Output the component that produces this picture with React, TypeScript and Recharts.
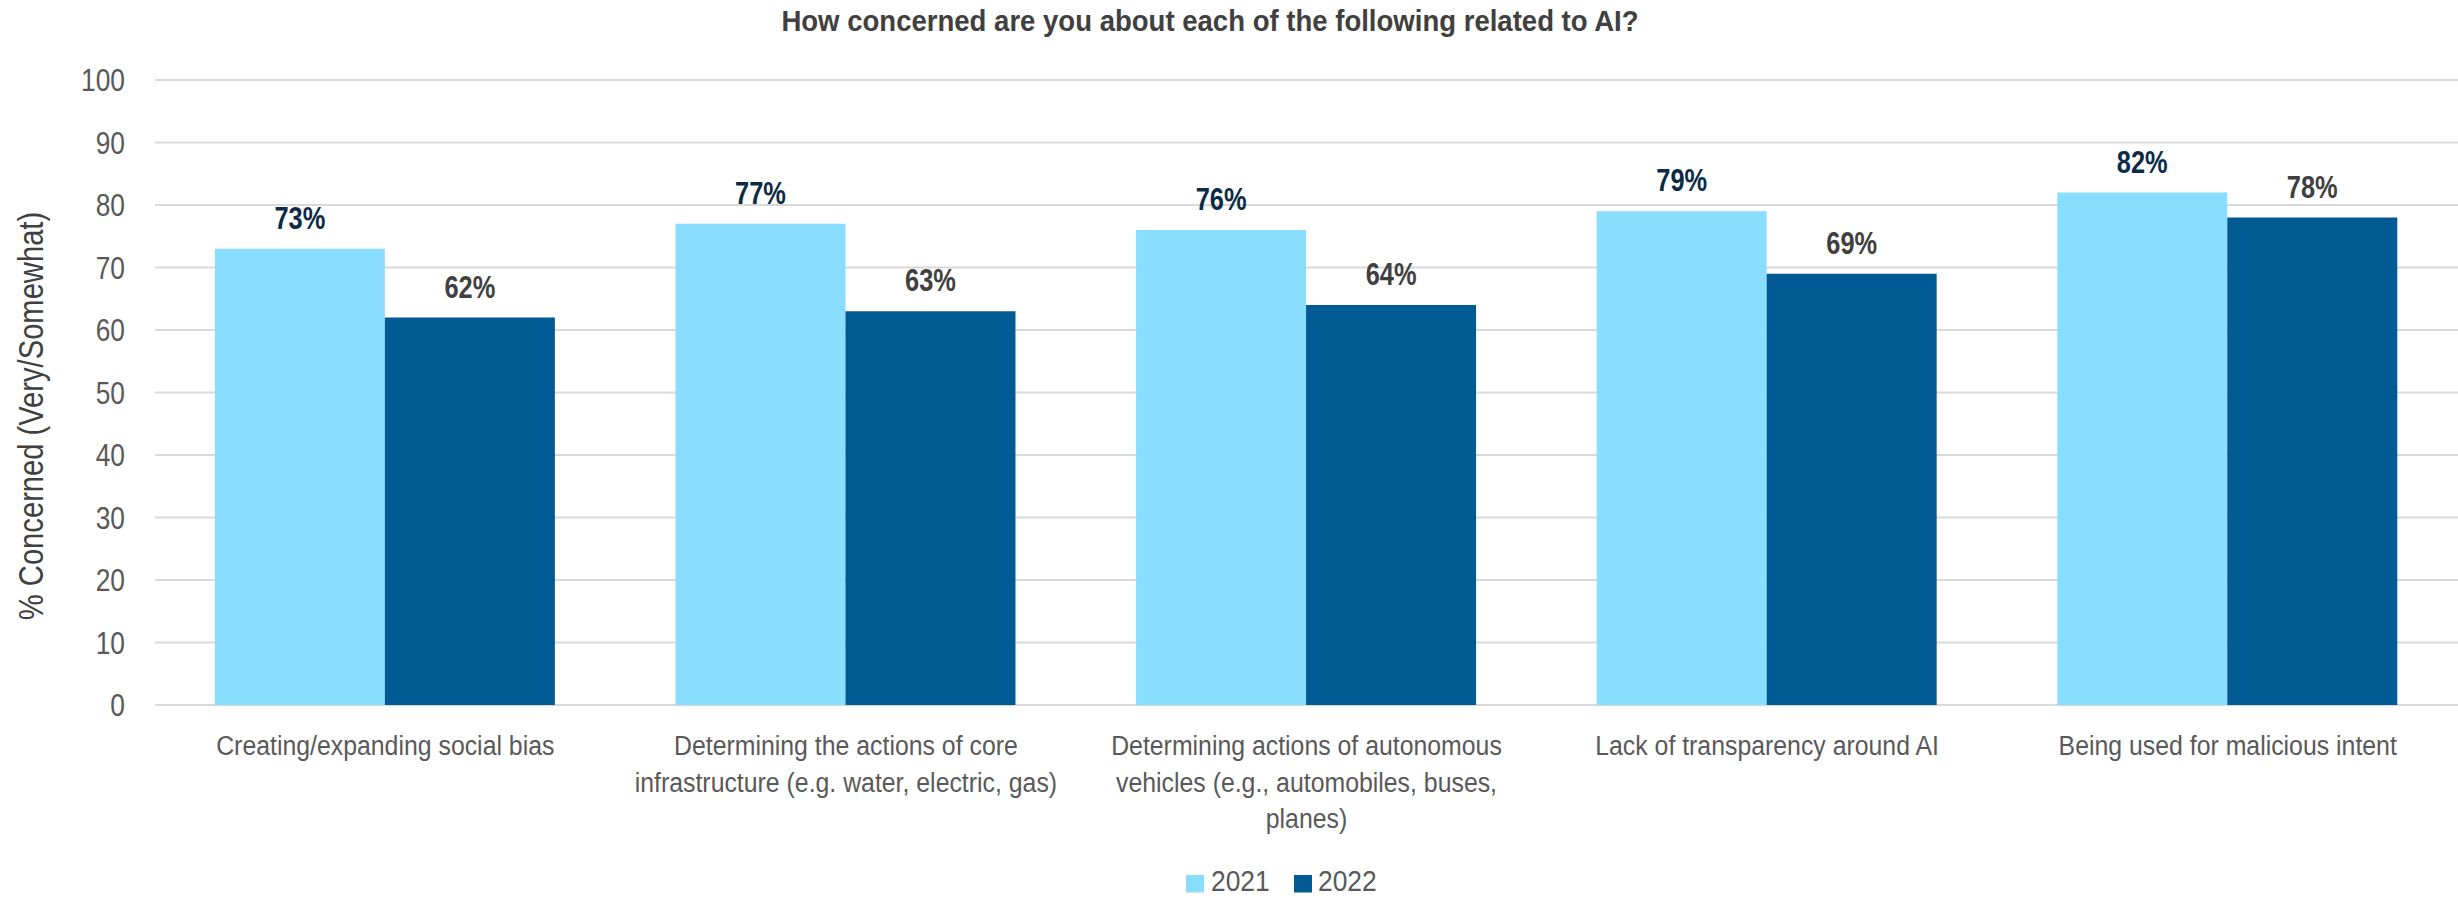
import { Bar, BarChart, CartesianGrid, LabelList, Legend, XAxis, YAxis } from 'recharts';

const categories = [
  'Creating/expanding social bias',
  'Determining the actions of core infrastructure (e.g. water, electric, gas)',
  'Determining actions of autonomous vehicles (e.g., automobiles, buses, planes)',
  'Lack of transparency around AI',
  'Being used for malicious intent',
];

// how the category labels wrap in the original
const categoryLines = [
  ['Creating/expanding social bias'],
  ['Determining the actions of core', 'infrastructure (e.g. water, electric, gas)'],
  ['Determining actions of autonomous', 'vehicles (e.g., automobiles, buses,', 'planes)'],
  ['Lack of transparency around AI'],
  ['Being used for malicious intent'],
];

const values2021 = [73, 77, 76, 79, 82];
const values2022 = [62, 63, 64, 69, 78];
const yTicks = [0, 10, 20, 30, 40, 50, 60, 70, 80, 90, 100];
const seriesNames = ['2021', '2022'];

const data = categories.map((name, i) => ({
  name,
  y2021: values2021[i],
  y2022: values2022[i],
}));

const FONT = "'Liberation Sans', Arial, sans-serif";
const LIGHT = '#89DDFF';
const DARK = '#005A94';
const GRAY = '#595959';

// the original uses a compressed face, so squeeze a regular one sideways
const NarrowText = ({ x, y, sx, size, anchor = 'middle', weight = 'normal', fill = GRAY, rotate = 0, children }: any) => (
  <text
    transform={`translate(${x},${y})${rotate ? ` rotate(${rotate})` : ''} scale(${sx},1)`}
    x={0}
    y={0}
    textAnchor={anchor}
    fontSize={size}
    fontWeight={weight}
    fill={fill}
    fontFamily={FONT}
  >
    {children}
  </text>
);

const CategoryTick = ({ x, y, payload }: any) => {
  const idx = categories.indexOf(payload.value);
  const lines = categoryLines[idx] || [payload.value];
  return (
    <g>
      {lines.map((line, i) => (
        <NarrowText key={i} x={x} y={y + 50 + i * 36.5} sx={0.92} size={27}>
          {line}
        </NarrowText>
      ))}
    </g>
  );
};

const ValueTick = ({ x, y, payload }: any) => (
  <NarrowText x={x} y={y + 11} sx={0.85} size={31} anchor='end'>
    {payload.value}
  </NarrowText>
);

// legend svg sits at top 860, so baseline 31 -> y 891
const LegendBox = () => (
  <svg width={200} height={38} style={{ display: 'block' }}>
    <rect x={0} y={15} width={18} height={17.5} fill={LIGHT} />
    <NarrowText x={25} y={31} sx={0.88} size={30} anchor='start'>
      {seriesNames[0]}
    </NarrowText>
    <rect x={108} y={15} width={18} height={17.5} fill={DARK} />
    <NarrowText x={132} y={31} sx={0.88} size={30} anchor='start'>
      {seriesNames[1]}
    </NarrowText>
  </svg>
);

const makeValueLabel = (color: string) => (props: any) => {
  const { x, y, width, value } = props;
  return (
    <NarrowText x={x + width / 2} y={y - 20} sx={0.82} size={31} weight='bold' fill={color}>
      {`${value}%`}
    </NarrowText>
  );
};

export default function App() {
  return (
    <div style={{ position: 'absolute', left: 0, top: 0, width: 2458, height: 898, background: '#fff', overflow: 'hidden' }}>
      <svg
        width={2458}
        height={50}
        style={{ position: 'absolute', left: 0, top: 0, zIndex: 2 }}
      >
        <NarrowText x={1210} y={31} sx={0.95} size={29} weight='bold' fill='#404040'>
          How concerned are you about each of the following related to AI?
        </NarrowText>
      </svg>
      <BarChart
        width={2458}
        height={898}
        data={data}
        margin={{ top: 80, right: 0, left: 0, bottom: 25 }}
        barCategoryGap='13%'
        barGap={0}
      >
        <CartesianGrid vertical={false} stroke='#D9D9D9' strokeWidth={2} />
        <XAxis
          dataKey='name'
          axisLine={false}
          tickLine={false}
          tickSize={0}
          tickMargin={0}
          interval={0}
          height={130}
          tick={<CategoryTick />}
        />
        <YAxis
          width={155}
          domain={[0, 100]}
          ticks={yTicks}
          axisLine={false}
          tickLine={false}
          tickSize={0}
          tickMargin={30}
          tick={<ValueTick />}
          label={{
            content: () => (
              <NarrowText x={43} y={416} sx={0.81} size={36} fill='#404040' rotate={-90}>
                % Concerned (Very/Somewhat)
              </NarrowText>
            ),
          }}
        />
        <Legend
          content={<LegendBox />}
          wrapperStyle={{ top: 860, left: 1186, bottom: 'auto', width: 'auto' }}
        />
        <Bar dataKey='y2021' name={seriesNames[0]} fill={LIGHT} isAnimationActive={false}>
          <LabelList dataKey='y2021' content={makeValueLabel('#0C2B47')} />
        </Bar>
        <Bar dataKey='y2022' name={seriesNames[1]} fill={DARK} isAnimationActive={false}>
          <LabelList dataKey='y2022' content={makeValueLabel('#404040')} />
        </Bar>
      </BarChart>
    </div>
  );
}
